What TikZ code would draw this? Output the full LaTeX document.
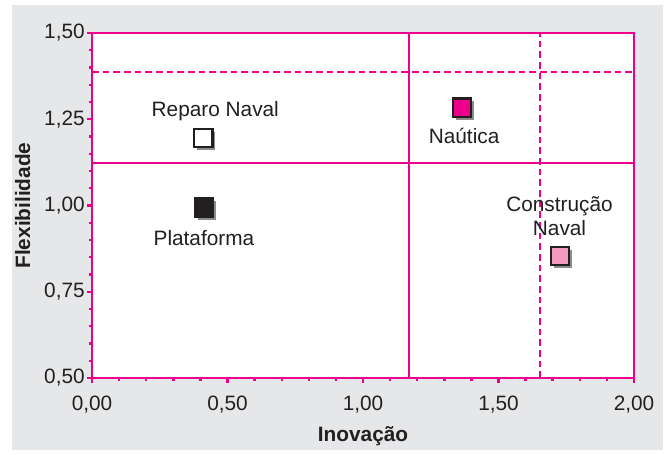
\documentclass[tikz,border=0pt]{standalone}
\usepackage{fontspec}
\setmainfont{Liberation Sans}
\usetikzlibrary{shadows}
\definecolor{rosa}{HTML}{EC008C}
\definecolor{rosaclaro}{HTML}{F49AC1}
\definecolor{fundo}{HTML}{E6E7E8}
\definecolor{tinta}{HTML}{231F20}
\tikzstyle{linha}=[rosa,line width=1.8pt]
\tikzstyle{tracejada}=[rosa,line width=1.7pt,dash pattern=on 5pt off 3pt]
\tikzstyle{ponto}=[draw=tinta,line width=1.6pt,minimum size=14pt,inner sep=0,drop shadow={shadow xshift=2.2pt,shadow yshift=-2.2pt,fill=black!45,opacity=1}]
\tikzstyle{rotulo}=[font=\fontsize{15.6}{18}\selectfont,text=tinta,inner sep=0]
\tikzstyle{titulo}=[font=\fontsize{15.6}{18}\selectfont\bfseries,text=tinta,inner sep=0]

\begin{document}
\begin{tikzpicture}[x=203.25pt,y=258.75pt]

    \useasboundingbox (-0.3395,0.2797) rectangle (2.129,1.5957);
    \fill[fundo] (-0.295,0.291) rectangle (2.107,1.581);
    \fill[white] (0,0.5) rectangle (2,1.5);

    % ticks
    \foreach \t in {0.1,0.2,...,1.95}
        \draw[linha] (\t,0.5) -- ++(0,-2.5pt);
    \foreach \t in {0,0.5,1,1.5,2}
        \draw[linha] (\t,0.5) -- ++(0,-4pt);
    \foreach \t in {0.55,0.6,...,1.47}
        \draw[linha] (0,\t) -- ++(-2.5pt,0);
    \foreach \t in {0.5,0.75,1,1.25,1.5}
        \draw[linha] (0,\t) -- ++(-4pt,0);

    % quadrantes
    \draw[tracejada] (0,1.386) -- (2,1.386);
    \draw[tracejada] (1.653,0.5) -- (1.653,1.5);
    \draw[linha] (1.17,0.5) -- (1.17,1.5);
    \draw[linha] (0,1.123) -- (2,1.123);
    \draw[linha] (0,0.5) rectangle (2,1.5);

    % eixos
    \node[rotulo,anchor=east] (y050) at (-0.026,0.5) {0,50};
    \node[rotulo,anchor=east] (y075) at (-0.026,0.75) {0,75};
    \node[rotulo,anchor=east] (y100) at (-0.026,1) {1,00};
    \node[rotulo,anchor=east] (y125) at (-0.026,1.25) {1,25};
    \node[rotulo,anchor=east] (y150) at (-0.026,1.5) {1,50};

    \node[rotulo,anchor=base] (x000) at (0,0.405) {0,00};
    \node[rotulo,anchor=base] (x050) at (0.5,0.405) {0,50};
    \node[rotulo,anchor=base] (x100) at (1,0.405) {1,00};
    \node[rotulo,anchor=base] (x150) at (1.5,0.405) {1,50};
    \node[rotulo,anchor=base] (x200) at (2,0.405) {2,00};

    \node[titulo,anchor=base] (inov) at (1.0,0.3154) {Inovação};
    \node[titulo,anchor=base,rotate=90] (flex) at (-0.228,1.0) {Flexibilidade};

    % setores
    \node[ponto,fill=white] (rn) at (0.41,1.196) {};
    \node[ponto,fill=tinta] (pl) at (0.413,0.995) {};
    \node[ponto,fill=rosa] (nt) at (1.365,1.283) {};
    \node[ponto,fill=rosaclaro] (cn) at (1.727,0.854) {};

    \node[rotulo,anchor=base] (rnt) at (0.455,1.2574) {Reparo Naval};
    \node[rotulo,anchor=base] (plt) at (0.413,0.8855) {Plataforma};
    \node[rotulo,anchor=base] (ntt) at (1.373,1.180) {Naútica};
    \node[rotulo,anchor=base] (cnt) at (1.725,0.982) {Construção};
    \node[rotulo,anchor=base] (cnt2) at (1.725,0.9145) {Naval};

\end{tikzpicture}
\end{document}
